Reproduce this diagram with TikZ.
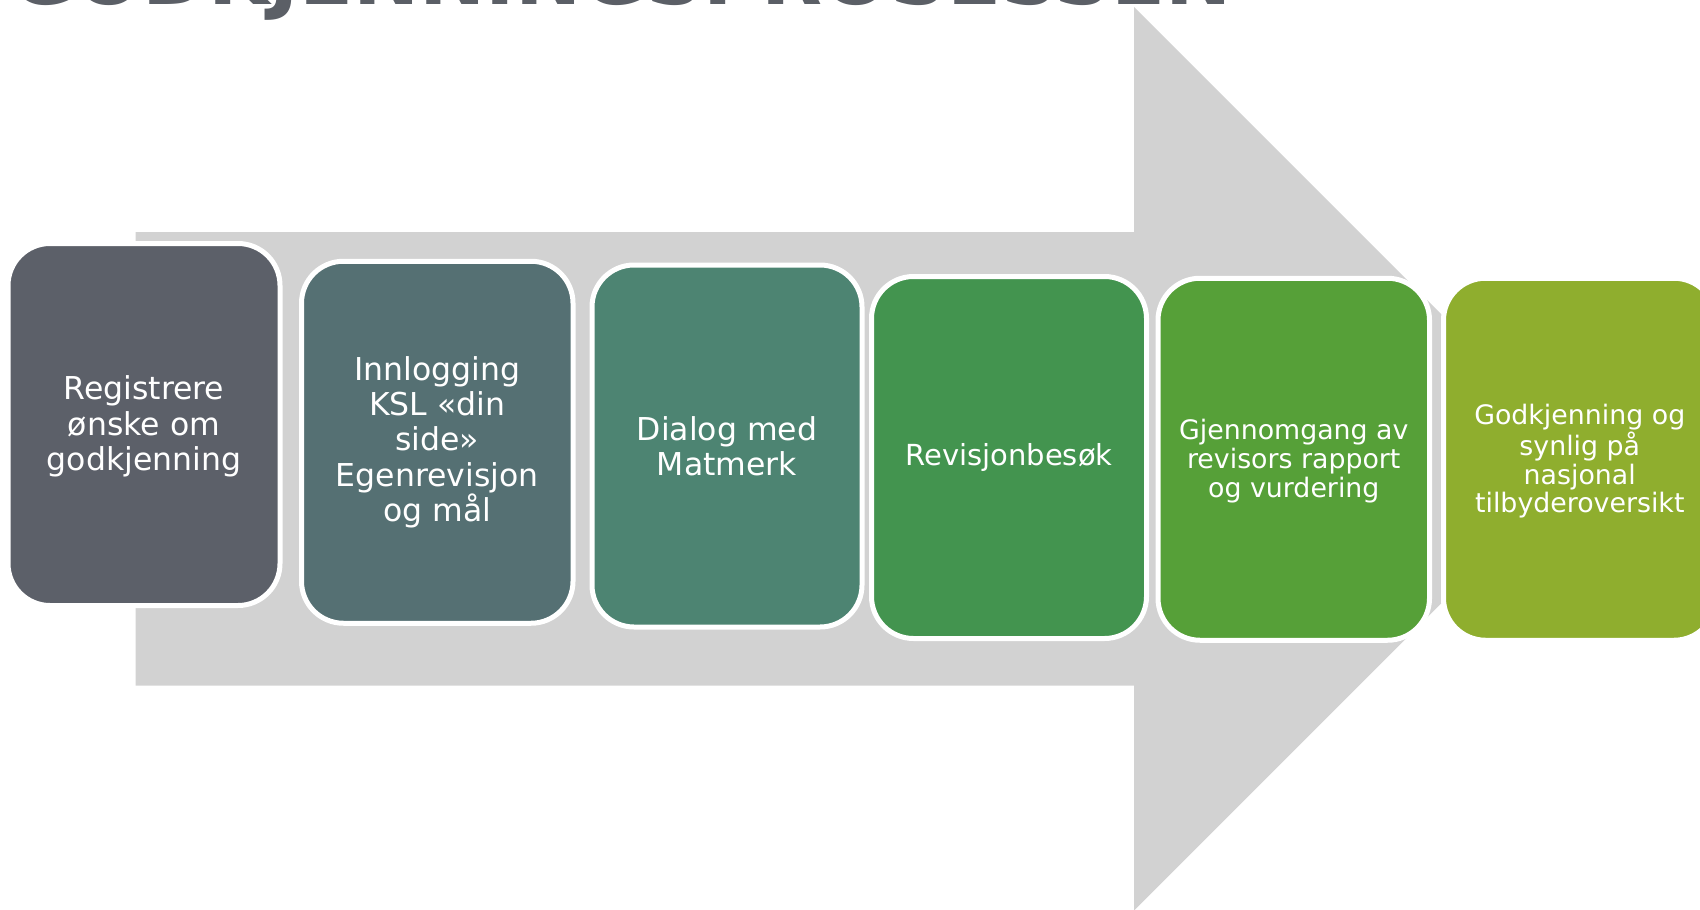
\documentclass[tikz,border=0pt]{standalone}
\usepackage{fontspec}
\setmainfont{DejaVu Sans}
\definecolor{arrowgray}{HTML}{D2D2D2}
\definecolor{titlegray}{HTML}{5B5F66}
\definecolor{cA}{HTML}{5C6069}
\definecolor{cB}{HTML}{557073}
\definecolor{cC}{HTML}{4D8472}
\definecolor{cD}{HTML}{43944F}
\definecolor{cE}{HTML}{56A038}
\definecolor{cF}{HTML}{8FAE2E}
\begin{document}
\begin{tikzpicture}[x=0.5pt,y=-0.5pt,
  stepbox/.style={draw=white, line width=2.5pt, rounded corners=21pt,
    minimum height=181pt, inner sep=0pt, align=center, text=white},
  bigtxt/.style={font=\fontsize{15.75}{17.7}\selectfont},
  midtxt/.style={font=\fontsize{14.5}{16}\selectfont},
  smalltxt/.style={font=\fontsize{13.4}{14.35}\selectfont}]
\useasboundingbox (0,0) rectangle (1700,909);
% big background arrow
\fill[arrowgray] (135.5,232) -- (1134,232) -- (1134,7) -- (1585.75,458.75)
  -- (1134,910.5) -- (1134,685.5) -- (135.5,685.5) -- cycle;
% title (mostly cut off at the top edge)
\node[anchor=base west, inner sep=0pt, text=titlegray,
  font=\fontsize{39.6}{39.6}\selectfont\bfseries] (title) at (10,5) {GODKJENNINGSPROSESSEN};
% process steps
\node[stepbox, bigtxt, fill=cA, minimum width=136pt] (b1) at (144,424.5)
  {\rule{0pt}{14pt}Registrere\\ønske om\\godkjenning};
\node[stepbox, bigtxt, fill=cB, minimum width=135.75pt] (b2) at (437.25,442.25)
  {Innlogging\\KSL «din\\side»\\Egenrevisjon\\og mål};
\node[stepbox, bigtxt, fill=cC, minimum width=135pt] (b3) at (727,446)
  {Dialog med\\Matmerk};
\node[stepbox, midtxt, fill=cD, minimum width=137.5pt] (b4) at (1009,457.5)
  {Revisjonbesøk};
\node[stepbox, smalltxt, fill=cE, minimum width=135.75pt] (b5) at (1293.75,459.25)
  {\rule{0pt}{12.2pt}Gjennomgang av\\revisors rapport\\og vurdering};
\node[stepbox, smalltxt, fill=cF, minimum width=136.25pt] (b6) at (1579.75,459.25)
  {\rule{0pt}{12.2pt}Godkjenning og\\synlig på\\nasjonal\\tilbyderoversikt};
\end{tikzpicture}
\end{document}
